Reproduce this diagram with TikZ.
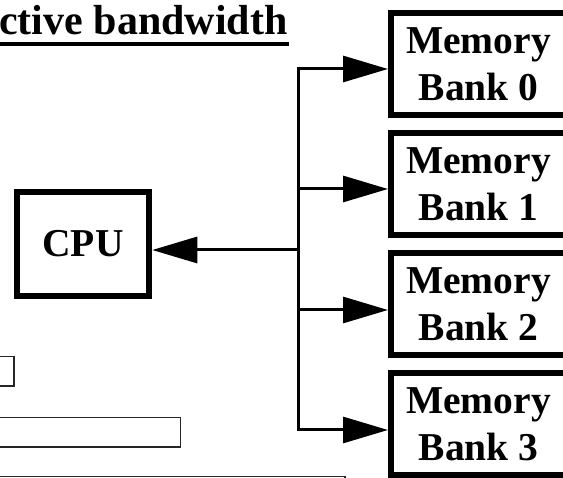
\documentclass[tikz,border=0pt]{standalone}
\usepackage{fontspec}
\setmainfont{Liberation Serif}
\usetikzlibrary{arrows.meta}

\tikzset{
  heavybox/.style={draw=black, line width=6pt, inner sep=0pt, outer sep=3pt,
    font=\bfseries\fontsize{39.5}{47}\selectfont, align=center},
  bus/.style={draw=black, line width=3pt},
  arr/.style={bus, -{Triangle[length=45pt,width=26pt]}},
  thinbox/.style={draw=black!85, line width=1.8pt},
}

\begin{document}
\begin{tikzpicture}[x=1pt, y=-1pt]
  \useasboundingbox (0,0) rectangle (563,478);
  \clip (0,0) rectangle (563,478);

  % heading
  \node[anchor=base west, inner sep=0pt, font=\bfseries\fontsize{42}{42}\selectfont]
    (title) at (-1,35) {ctive bandwidth};
  \draw[line width=4pt] (0,44.5) -- (289,44.5);

  % processor
  \node[heavybox, minimum width=132.5pt, minimum height=104pt] (cpu) at (83,244) {CPU};

  % memory banks
  \node[heavybox, minimum width=175pt, minimum height=102pt] (m0) at (478.5,64)  {Memory\\Bank 0};
  \node[heavybox, minimum width=175pt, minimum height=102pt] (m1) at (478.5,184) {Memory\\Bank 1};
  \node[heavybox, minimum width=175pt, minimum height=102pt] (m2) at (478.5,304) {Memory\\Bank 2};
  \node[heavybox, minimum width=175pt, minimum height=102pt] (m3) at (478.5,424) {Memory\\Bank 3};

  % taps on the shared bus
  \coordinate (b0) at (298,69);
  \coordinate (b1) at (298,189);
  \coordinate (bc) at (298,250);
  \coordinate (b2) at (298,310);
  \coordinate (b3) at (298,430);

  \draw[bus, line cap=rect] (b0) -- (b3);
  \draw[arr] (b0) -- (b0 -| m0.west);
  \draw[arr] (b1) -- (b1 -| m1.west);
  \draw[arr] (b2) -- (b2 -| m2.west);
  \draw[arr] (b3) -- (b3 -| m3.west);
  \draw[arr] (bc) -- (bc -| cpu.east);

  % bars at the lower left
  \draw[thinbox] (-5,356.5) rectangle (14,386);
  \draw[thinbox] (-5,417.5) rectangle (180.5,447);
  \draw[thinbox] (-5,476.5) rectangle (345,500);
\end{tikzpicture}
\end{document}
